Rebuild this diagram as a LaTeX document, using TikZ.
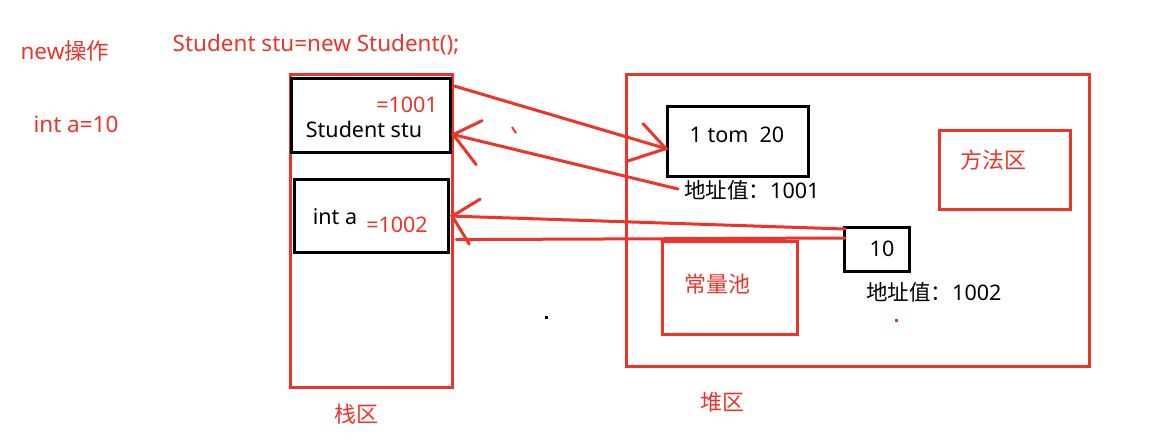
\documentclass[tikz,border=0pt]{standalone}
\usepackage{fontspec}
\setmainfont{Noto Sans}
\newfontfamily\cjk{Noto Sans CJK SC}
\usetikzlibrary{calc}
\definecolor{myred}{RGB}{238,52,40}
\begin{document}
\begin{tikzpicture}[x=1pt,y=-1pt,
  redbox/.style={draw=myred,line width=3.2pt,inner sep=0pt,anchor=north west},
  blackbox/.style={draw=black,line width=3.2pt,inner sep=0pt,anchor=north west},
  redline/.style={draw=myred,line width=3pt,line cap=round},
  lat/.style={font=\fontsize{21.5}{24}\selectfont,inner sep=0pt},
  big/.style={font=\fontsize{22.5}{26}\selectfont,inner sep=0pt},
  han/.style={font=\cjk\fontsize{22}{26}\selectfont,inner sep=0pt},
  rtxt/.style={text=myred},
  btxt/.style={text=black}]
\useasboundingbox (0,0) rectangle (1165,445);
\fill[white] (0,0) rectangle (1165,445);

% regions
\node[redbox,minimum width=162pt,minimum height=313pt] (stack) at (289,73) {};
\node[redbox,minimum width=463pt,minimum height=292pt] (heap) at (625,73) {};
\node[redbox,minimum width=131pt,minimum height=79pt] (method) at (938,129) {};
\node[redbox,minimum width=135pt,minimum height=93pt] (pool) at (661,240) {};

% black boxes
\node[blackbox,minimum width=159pt,minimum height=74pt] (stu) at (290,77) {};
\node[blackbox,minimum width=154pt,minimum height=73pt] (inta) at (293,178) {};
\node[blackbox,minimum width=141pt,minimum height=70pt] (tom) at (666,105) {};
\node[blackbox,minimum width=65pt,minimum height=44pt] (ten) at (843,226) {};

% texts
\node[big,rtxt] (t1) at (65,51) {new\cjk 操作};
\node[big,rtxt] (t2) at (76,124) {int a=10};
\node[big,rtxt] (t3) at (316,45) {Student stu=new Student();};
\node[lat,rtxt] (v1) at (407,105) {=1001};
\node[lat,btxt] (s1) at (364,129) {Student stu};
\node[lat,btxt] (s2) at (335,217) {int a};
\node[lat,rtxt] (v2) at (397,225) {=1002};
\node[lat,btxt] (s3) at (737,135) {1 tom\ \ 20};
\node[lat,btxt,anchor=west] (addr1) at (684,190) {{\cjk 地址值：}1001};
\node[lat,btxt] (s4) at (882,249) {10};
\node[lat,btxt,anchor=west] (addr2) at (866,292) {{\cjk 地址值：}1002};
\node[han,rtxt] (m) at (993,160) {方法区};
\node[han,rtxt] (p) at (717,284) {常量池};
\node[han,rtxt] (zk) at (356,414) {栈区};
\node[han,rtxt] (dk) at (722,402) {堆区};

% connectors
\coordinate (a1s) at ($(stu.north east)+(2,9)$);
\coordinate (a1t) at ($(tom.west)+(0,7)$);
\draw[redline] (a1s) -- (a1t);
\draw[redline] ($(a1t)+(-23,-25)$) -- (a1t) -- ($(a1t)+(-40,13)$);

\coordinate (a2s) at ($(addr1.west)+(-6,-1)$);
\coordinate (a2t) at ($(stu.east)+(1,19)$);
\draw[redline] (a2s) -- (a2t);
\draw[redline] ($(a2t)+(29,-14)$) -- (a2t) -- ($(a2t)+(23,30)$);

\coordinate (a3s) at ($(ten.north west)+(2,3)$);
\coordinate (a3t) at ($(inta.east)+(2,0)$);
\draw[redline] (a3s) -- (a3t);
\draw[redline] ($(a3t)+(28,-17)$) -- (a3t) -- ($(a3t)+(17,28)$);

\coordinate (a4s) at ($(ten.north west)+(2,12)$);
\coordinate (a4t) at ($(stack.east)+(2,8.5)$);
\draw[redline] (a4s) -- (a4t);

% small marks
\draw[myred,line width=2pt] (512,127) -- (516,133);
\fill[black] (545,316) rectangle (548,319);
\fill[myred] (895,319) rectangle (898,322);
\end{tikzpicture}
\end{document}
